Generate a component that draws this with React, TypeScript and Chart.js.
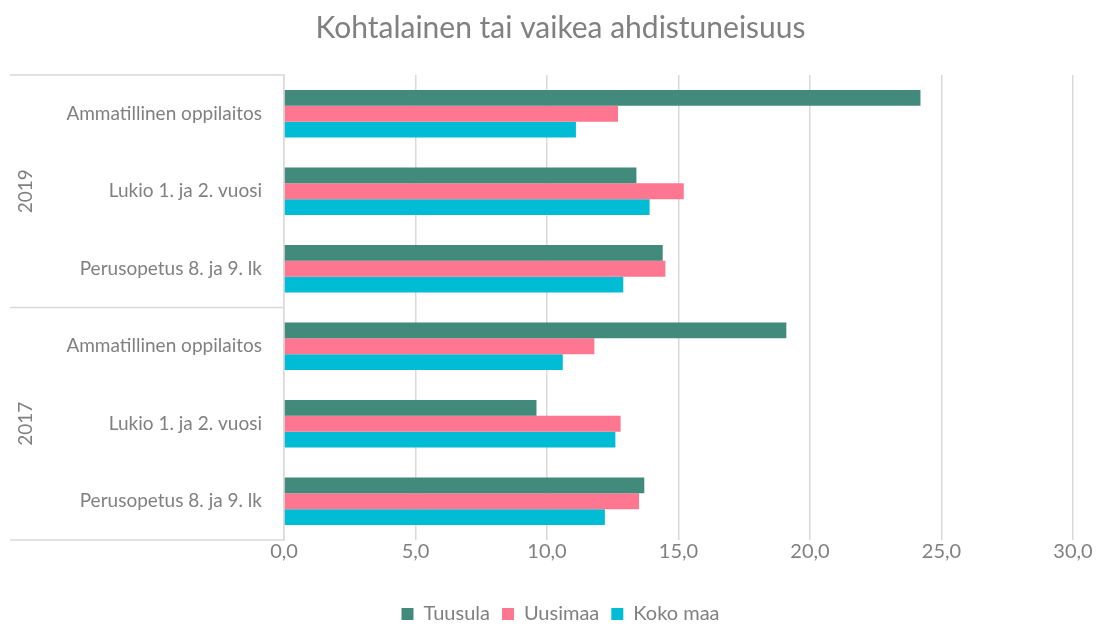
import React, { useEffect, useRef } from "react";
import { Chart, registerables } from "chart.js";

Chart.register(...registerables);

const categories = [
  "Ammatillinen oppilaitos",
  "Lukio 1. ja 2. vuosi",
  "Perusopetus 8. ja 9. lk",
  "Ammatillinen oppilaitos",
  "Lukio 1. ja 2. vuosi",
  "Perusopetus 8. ja 9. lk",
];
const categoryYears = ["2019", "2019", "2019", "2017", "2017", "2017"];
const seriesNames = ["Tuusula", "Uusimaa", "Koko maa"];
const tuusula = [24.2, 13.4, 14.4, 19.1, 9.6, 13.7];
const uusimaa = [12.7, 15.2, 14.5, 11.8, 12.8, 13.5];
const kokoMaa = [11.1, 13.9, 12.9, 10.6, 12.6, 12.2];
const seriesColors = ["#428A7B", "#FF7691", "#00BCD4"];
const xTicks = [0, 5, 10, 15, 20, 25, 30];

const FONT = "Lato, 'Liberation Sans', sans-serif";
const GRAY = "#808080";
const LINE = "#d9d9d9";

const groupPlugin = {
  id: "groupLabels",
  afterDraw(chart: any) {
    const ctx = chart.ctx;
    const y = chart.scales.y;
    const left = chart.chartArea.left;
    const n = categories.length;
    const half = (y.getPixelForValue(1) - y.getPixelForValue(0)) / 2;
    const bounds: number[] = [y.getPixelForValue(0) - half];
    for (let i = 1; i < n; i++) {
      if (categoryYears[i] !== categoryYears[i - 1]) {
        bounds.push((y.getPixelForValue(i - 1) + y.getPixelForValue(i)) / 2);
      }
    }
    bounds.push(y.getPixelForValue(n - 1) + half);
    ctx.save();
    ctx.strokeStyle = LINE;
    ctx.lineWidth = 1.5;
    bounds.forEach((b) => {
      ctx.beginPath();
      ctx.moveTo(10, b);
      ctx.lineTo(left, b);
      ctx.stroke();
    });
    ctx.fillStyle = GRAY;
    ctx.font = `19px ${FONT}`;
    ctx.textAlign = "center";
    ctx.textBaseline = "middle";
    let start = 0;
    for (let i = 1; i <= n; i++) {
      if (i === n || categoryYears[i] !== categoryYears[start]) {
        const cy = (y.getPixelForValue(start) + y.getPixelForValue(i - 1)) / 2;
        ctx.save();
        ctx.translate(26, cy);
        ctx.rotate(-Math.PI / 2);
        ctx.fillText(categoryYears[start], 0, 0);
        ctx.restore();
        start = i;
      }
    }
    ctx.restore();
  },
};

export default function App() {
  const ref = useRef<HTMLCanvasElement | null>(null);
  useEffect(() => {
    if (!ref.current) return;
    const chart = new Chart(ref.current, {
      type: "bar",
      data: {
        labels: categories,
        datasets: [tuusula, uusimaa, kokoMaa].map((d, i) => ({
          label: seriesNames[i],
          data: d,
          backgroundColor: seriesColors[i],
          barPercentage: 1,
          categoryPercentage: 0.61,
        })),
      },
      options: {
        animation: false,
        responsive: true,
        maintainAspectRatio: false,
        indexAxis: "y",
        layout: { padding: { left: 48, right: 24, top: 0, bottom: -10 } },
        plugins: {
          title: {
            display: true,
            text: "Kohtalainen tai vaikea ahdistuneisuus",
            color: GRAY,
            font: { family: FONT, size: 30, weight: "normal" },
            padding: { top: 10, bottom: 29 },
          },
          legend: {
            position: "bottom",
            labels: {
              color: GRAY,
              font: { family: FONT, size: 20 },
              boxWidth: 12,
              boxHeight: 12,
              padding: 12,
            },
          },
          tooltip: { enabled: false },
        },
        scales: {
          x: {
            min: 0,
            max: 30,
            afterBuildTicks: (s: any) => {
              s.ticks = xTicks.map((v) => ({ value: v }));
            },
            afterFit: (s: any) => {
              s.height = 52;
            },
            ticks: {
              color: GRAY,
              font: { family: FONT, size: 20 },
              padding: 0,
              callback: (v: any) => Number(v).toFixed(1).replace(".", ","),
            },
            grid: { color: LINE, lineWidth: 1.5, drawTicks: false },
            border: { display: false },
          },
          y: {
            afterFit: (s: any) => {
              s.width = 236;
            },
            ticks: {
              color: GRAY,
              font: { family: FONT, size: 19 },
              padding: 22,
            },
            grid: { display: false, drawTicks: false },
            border: { display: true, color: LINE, width: 1.5 },
          },
        },
      },
      plugins: [groupPlugin],
    });
    return () => chart.destroy();
  }, []);
  return (
    <div style={{ position: "fixed", left: 0, top: 0, width: 1097, height: 624, background: "#fff" }}>
      <canvas ref={ref} />
    </div>
  );
}
